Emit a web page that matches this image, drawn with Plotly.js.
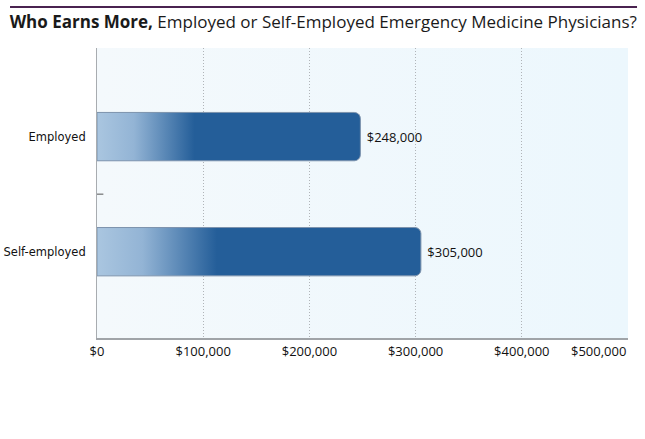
<!DOCTYPE html>
<html>
<head>
<meta charset="utf-8">
<script src="https://cdn.plot.ly/plotly-3.0.1.min.js"></script>
<style>html,body{margin:0;padding:0;background:#fff;}#chart{width:645px;height:439px;}</style>
</head>
<body>
<div id="chart"></div>
<script>
const categories = ["Employed", "Self-employed"];
const earnings = [248000, 305000];
const tickValues = [0, 100000, 200000, 300000, 400000];
const tickLabels = ["$0", "$100,000", "$200,000", "$300,000", "$400,000"];
const lastTickValue = 500000;
const lastTickLabel = "$500,000";

const labels = earnings.map(v => "$" + v.toLocaleString("en-US"));

const trace = {
  type: "bar",
  orientation: "h",
  y: categories,
  x: earnings,
  text: labels,
  textposition: "outside",
  texttemplate: " %{text}",
  textfont: {family: "Open Sans, sans-serif", size: 13, color: "#111"},
  cliponaxis: false,
  width: 0.42,
  marker: {color: "#245e99", line: {color: "#7d93ad", width: 1}},
  hoverinfo: "none"
};

const layout = {
  width: 645, height: 439,
  margin: {l: 97, r: 17, t: 48, b: 101},
  paper_bgcolor: "#ffffff",
  plot_bgcolor: "#eff8fc",
  barcornerradius: 6,
  showlegend: false,
  title: {
    text: "<b>Who Earns More,</b> Employed or Self-Employed Emergency Medicine Physicians?",
    font: {family: "Open Sans, sans-serif", size: 17, color: "#1a1a1a"},
    x: 0.015, xref: "container", xanchor: "left",
    y: 0.95, yref: "container", yanchor: "middle"
  },
  xaxis: {
    range: [0, 500000],
    tickvals: tickValues,
    ticktext: tickLabels,
    tickfont: {family: "Open Sans, sans-serif", size: 13, color: "#111"},
    showgrid: true,
    gridcolor: "#b0b4b8",
    griddash: "1px,2px",
    gridwidth: 1,
    zeroline: false,
    showline: true,
    linecolor: "#a0a4a8",
    linewidth: 2,
    ticks: "",
    fixedrange: true
  },
  yaxis: {
    type: "category",
    autorange: false,
    range: [1.75, -0.77],
    tickfont: {family: "DejaVu Sans, sans-serif", size: 11.5, color: "#111"},
    ticks: "",
    ticklabelstandoff: 8,
    showgrid: false,
    zeroline: false,
    showline: true,
    linecolor: "#a8acb0",
    linewidth: 1,
    fixedrange: true
  },
  annotations: [
    {x: lastTickValue, xref: "x", y: 0, yref: "paper", yshift: -2, text: lastTickLabel,
     showarrow: false, xanchor: "right", yanchor: "top",
     font: {family: "Open Sans, sans-serif", size: 13, color: "#111"}}
  ],
  shapes: [
    {type: "line", xref: "paper", yref: "paper", x0: -0.1638, x1: 1.017, y0: 1.141, y1: 1.141,
     line: {color: "#4a2350", width: 2}},
    {type: "line", xref: "paper", yref: "y", x0: 0, x1: 0.012, y0: 0.5, y1: 0.5,
     line: {color: "#555", width: 1}}
  ]
};

Plotly.newPlot("chart", [trace], layout, {staticPlot: true, displayModeBar: false}).then(function (gd) {
  const svg = gd.querySelector(".main-svg");
  const ns = "http://www.w3.org/2000/svg";
  let defs = svg.querySelector("defs");
  if (!defs) { defs = document.createElementNS(ns, "defs"); svg.insertBefore(defs, svg.firstChild); }
  function addGrad(id, stops) {
    const g = document.createElementNS(ns, "linearGradient");
    g.setAttribute("id", id);
    g.setAttribute("x1", "0"); g.setAttribute("y1", "0");
    g.setAttribute("x2", "1"); g.setAttribute("y2", "0");
    stops.forEach(function (s) {
      const st = document.createElementNS(ns, "stop");
      st.setAttribute("offset", s[0]);
      st.setAttribute("stop-color", s[1]);
      g.appendChild(st);
    });
    defs.appendChild(g);
  }
  addGrad("barGrad", [["0", "#aac6e0"], ["0.14", "#93b4d5"], ["0.37", "#245e99"], ["1", "#245e99"]]);
  addGrad("bgGrad", [["0", "#f4f9fc"], ["1", "#ecf7fd"]]);
  gd.querySelectorAll(".bars .point path").forEach(function (p) {
    p.style.fill = "url(#barGrad)";
  });
  const bgRect = gd.querySelector(".bglayer rect.bg");
  if (bgRect) bgRect.style.fill = "url(#bgGrad)";
});
</script>
</body>
</html>
